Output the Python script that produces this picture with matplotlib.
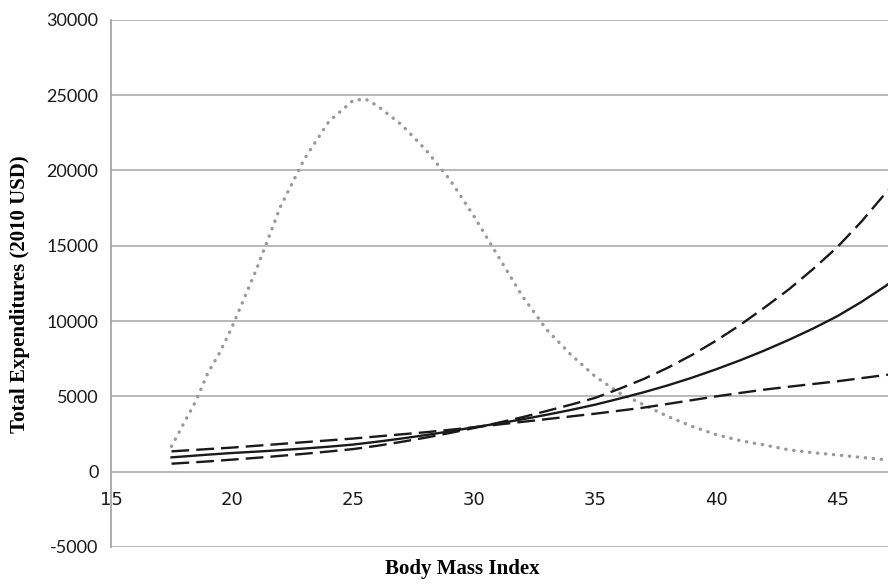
import matplotlib
matplotlib.use("Agg")
import matplotlib.pyplot as plt

plt.rcParams['axes.unicode_minus'] = False

# BMI grid for the three cost curves
bmi = [17.5, 18, 19, 20, 21, 22, 23, 24, 25, 26, 27, 28, 29, 30, 31, 32,
       33, 34, 35, 36, 37, 38, 39, 40, 41, 42, 43, 44, 45, 46, 47, 47.1]
cost_mid = [950, 1010, 1130, 1240, 1330, 1430, 1540, 1660, 1800, 1990, 2200, 2430, 2680,
            2950, 3200, 3480, 3780, 4100, 4450, 4850, 5270, 5730, 6240, 6800, 7400, 8050,
            8750, 9500, 10320, 11270, 12330, 12450]
cost_steep = [530, 580, 680, 800, 920, 1050, 1190, 1340, 1500, 1720, 1980, 2260, 2570,
              2900, 3250, 3620, 4030, 4450, 4900, 5500, 6150, 6900, 7750, 8700, 9750, 10900,
              12100, 13450, 14900, 16600, 18500, 18700]
cost_flat = [1350, 1400, 1500, 1600, 1720, 1840, 1960, 2080, 2200, 2340, 2480, 2620, 2780,
             2950, 3130, 3310, 3490, 3670, 3850, 4050, 4250, 4500, 4750, 5000, 5230, 5450,
             5640, 5820, 6000, 6210, 6420, 6440]

# BMI distribution (dotted grey)
bmi_dist = [17.5, 18, 18.5, 19, 19.5, 20, 21, 22, 23, 24, 25, 25.5, 26, 27, 28, 29, 30,
            31, 32, 33, 34, 35, 36, 37, 38, 39, 40, 41, 42, 43, 44, 45, 46, 47.1]
dist_vals = [1680, 3190, 4670, 6550, 7930, 9600, 13400, 17600, 20800, 23250, 24650, 24750,
             24300, 23040, 21380, 19390, 16950, 14290, 11640, 9430, 7770, 6330, 5230, 4450,
             3670, 3010, 2460, 2060, 1770, 1450, 1260, 1110, 950, 780]

x_ticks = [15, 20, 25, 30, 35, 40, 45]
y_ticks = [-5000, 0, 5000, 10000, 15000, 20000, 25000, 30000]

fig = plt.figure(figsize=(8.88, 5.85), dpi=100)
ax = fig.add_axes([0.125, 0.065, 0.875, 0.901])

grid_col = "#a6a6a6"
for yv in y_ticks:
    ax.axhline(yv, color=grid_col, lw=1.1, zorder=1)

ax.plot(bmi_dist, dist_vals, color="#999999", lw=2.4,
        linestyle=(0, (0.1, 2.3)), dash_capstyle="round", zorder=2)
ax.plot(bmi, cost_flat, color="#1a1a1a", lw=1.7, linestyle=(0, (7.5, 3)), zorder=3)
ax.plot(bmi, cost_steep, color="#1a1a1a", lw=1.7, linestyle=(0, (7.5, 3)), zorder=3)
ax.plot(bmi, cost_mid, color="#1a1a1a", lw=1.7, zorder=3)

ax.set_xlim(15, 47.1)
ax.set_ylim(-5000, 30000)
ax.set_xticks(x_ticks)
ax.set_yticks(y_ticks)

for s in ["top", "right", "bottom"]:
    ax.spines[s].set_visible(False)
ax.spines["left"].set_color(grid_col)
ax.spines["left"].set_linewidth(1.3)

ax.tick_params(axis="both", length=0, labelsize=13, colors="#1a1a1a")
ax.tick_params(axis="y", pad=9)
ax.tick_params(axis="x", pad=14)
for lab in ax.get_xticklabels() + ax.get_yticklabels():
    lab.set_family("Lato")
# x labels sit just under the zero line
ax.xaxis.set_ticks_position("bottom")
ax.spines["bottom"].set_position(("data", 0))

ax.set_xlabel("Body Mass Index", family="Liberation Serif", weight="bold", fontsize=15)
ax.set_ylabel("Total Expenditures (2010 USD)", family="Liberation Serif", weight="bold", fontsize=15)
ax.xaxis.set_label_coords(0.452, -0.022)
ax.yaxis.set_label_coords(-0.104, 0.48)

fig.savefig("out.png", dpi=100)
